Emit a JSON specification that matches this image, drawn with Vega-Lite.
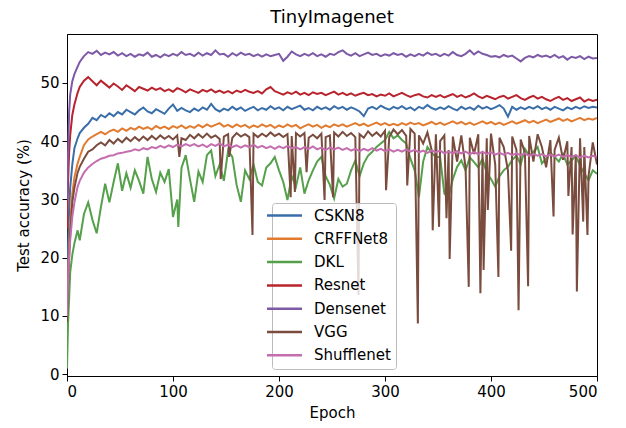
{
  "$schema": "https://vega.github.io/schema/vega-lite/v6.json",
  "width": 530,
  "height": 342,
  "autosize": {"type": "none"},
  "padding": {"left": 67, "top": 34, "right": 29, "bottom": 52},
  "background": "white",
  "title": {"text": "TinyImagenet", "fontSize": 18, "font": "DejaVu Sans", "fontWeight": "normal", "color": "black", "offset": 7},
  "config": {
    "font": "DejaVu Sans",
    "view": {"stroke": "black", "strokeWidth": 1},
    "axis": {
      "grid": false,
      "domainColor": "black",
      "tickColor": "black",
      "tickSize": 5,
      "labelFont": "DejaVu Sans",
      "labelFontSize": 15,
      "labelColor": "black",
      "labelPadding": 3,
      "titleFont": "DejaVu Sans",
      "titleFontSize": 15,
      "titleFontWeight": "normal",
      "titleColor": "black"
    }
  },
  "data": {
    "values": [
      {"e": 0, "CSKN8": 15, "CRFFNet8": 10, "DKL": 1.0, "Resnet": 25, "Densenet": 30, "VGG": 9, "Shufflenet": 10},
      {"e": 1, "CSKN8": 22, "CRFFNet8": 17, "DKL": 8.8, "Resnet": 33, "Densenet": 38, "VGG": 15, "Shufflenet": 16},
      {"e": 2, "CSKN8": 28, "CRFFNet8": 22, "DKL": 13, "Resnet": 38, "Densenet": 45, "VGG": 20, "Shufflenet": 20},
      {"e": 3, "CSKN8": 32, "CRFFNet8": 26, "DKL": 17.5, "Resnet": 41, "Densenet": 48, "VGG": 24, "Shufflenet": 23},
      {"e": 5, "CSKN8": 36, "CRFFNet8": 31, "DKL": 20.5, "Resnet": 44.5, "Densenet": 50.3, "VGG": 29.5, "Shufflenet": 27},
      {"e": 7, "CSKN8": 38.8, "CRFFNet8": 33.8, "DKL": 22.5, "Resnet": 46.3, "Densenet": 51.5, "VGG": 32, "Shufflenet": 29.5},
      {"e": 10, "CSKN8": 40.5, "CRFFNet8": 36.2, "DKL": 24.7, "Resnet": 48.3, "Densenet": 52.8, "VGG": 34.6, "Shufflenet": 32.2},
      {"e": 12, "CSKN8": 41.4, "CRFFNet8": 37.3, "DKL": 23.0, "Resnet": 49.3, "Densenet": 53.6, "VGG": 35.6, "Shufflenet": 33.2},
      {"e": 16, "CSKN8": 42.3, "CRFFNet8": 39.3, "DKL": 27.5, "Resnet": 50.4, "Densenet": 54.6, "VGG": 37.0, "Shufflenet": 34.6},
      {"e": 20, "CSKN8": 43.0, "CRFFNet8": 40.3, "DKL": 29.5, "Resnet": 51.0, "Densenet": 55.3, "VGG": 38.2, "Shufflenet": 35.5},
      {"e": 24, "CSKN8": 44.0, "CRFFNet8": 40.8, "DKL": 26.5, "Resnet": 50.3, "Densenet": 55.0, "VGG": 38.6, "Shufflenet": 36.1},
      {"e": 28, "CSKN8": 43.6, "CRFFNet8": 41.2, "DKL": 24.2, "Resnet": 49.6, "Densenet": 55.5, "VGG": 39.3, "Shufflenet": 36.6},
      {"e": 32, "CSKN8": 44.5, "CRFFNet8": 41.6, "DKL": 28.7, "Resnet": 50.4, "Densenet": 54.8, "VGG": 39.8, "Shufflenet": 37.0},
      {"e": 36, "CSKN8": 44.1, "CRFFNet8": 41.2, "DKL": 32.7, "Resnet": 49.8, "Densenet": 55.2, "VGG": 39.3, "Shufflenet": 37.2},
      {"e": 40, "CSKN8": 44.8, "CRFFNet8": 41.7, "DKL": 29.5, "Resnet": 49.2, "Densenet": 54.9, "VGG": 40.2, "Shufflenet": 37.5},
      {"e": 44, "CSKN8": 44.3, "CRFFNet8": 42.0, "DKL": 33.0, "Resnet": 49.9, "Densenet": 55.3, "VGG": 39.6, "Shufflenet": 37.6},
      {"e": 48, "CSKN8": 45.0, "CRFFNet8": 41.6, "DKL": 36.2, "Resnet": 49.4, "Densenet": 54.7, "VGG": 40.4, "Shufflenet": 37.9},
      {"e": 52, "CSKN8": 44.6, "CRFFNet8": 42.2, "DKL": 31.5, "Resnet": 48.8, "Densenet": 55.1, "VGG": 39.8, "Shufflenet": 38.0},
      {"e": 56, "CSKN8": 45.4, "CRFFNet8": 41.8, "DKL": 34.5, "Resnet": 49.6, "Densenet": 54.6, "VGG": 40.6, "Shufflenet": 38.2},
      {"e": 60, "CSKN8": 45.0, "CRFFNet8": 42.3, "DKL": 32.0, "Resnet": 49.1, "Densenet": 55.0, "VGG": 40.0, "Shufflenet": 38.3},
      {"e": 64, "CSKN8": 44.6, "CRFFNet8": 42.0, "DKL": 35.0, "Resnet": 48.6, "Densenet": 54.5, "VGG": 40.7, "Shufflenet": 38.6},
      {"e": 68, "CSKN8": 45.3, "CRFFNet8": 42.5, "DKL": 33.2, "Resnet": 49.3, "Densenet": 54.9, "VGG": 40.1, "Shufflenet": 38.4},
      {"e": 72, "CSKN8": 45.8, "CRFFNet8": 42.1, "DKL": 31.0, "Resnet": 49.0, "Densenet": 54.7, "VGG": 40.8, "Shufflenet": 38.8},
      {"e": 76, "CSKN8": 45.1, "CRFFNet8": 42.4, "DKL": 37.3, "Resnet": 48.7, "Densenet": 55.2, "VGG": 40.2, "Shufflenet": 38.6},
      {"e": 80, "CSKN8": 44.8, "CRFFNet8": 42.0, "DKL": 33.5, "Resnet": 49.2, "Densenet": 54.5, "VGG": 40.9, "Shufflenet": 39.0},
      {"e": 84, "CSKN8": 45.5, "CRFFNet8": 42.6, "DKL": 31.3, "Resnet": 48.8, "Densenet": 54.8, "VGG": 40.3, "Shufflenet": 38.8},
      {"e": 88, "CSKN8": 45.1, "CRFFNet8": 42.2, "DKL": 34.6, "Resnet": 49.1, "Densenet": 54.4, "VGG": 41.0, "Shufflenet": 39.2},
      {"e": 92, "CSKN8": 44.7, "CRFFNet8": 42.5, "DKL": 33.0, "Resnet": 48.6, "Densenet": 54.9, "VGG": 40.4, "Shufflenet": 38.9},
      {"e": 96, "CSKN8": 45.6, "CRFFNet8": 42.1, "DKL": 35.2, "Resnet": 48.9, "Densenet": 54.6, "VGG": 40.9, "Shufflenet": 39.3},
      {"e": 100, "CSKN8": 46.3, "CRFFNet8": 42.6, "DKL": 27.0, "Resnet": 48.5, "Densenet": 55.0, "VGG": 40.3, "Shufflenet": 39.0},
      {"e": 104, "CSKN8": 45.2, "CRFFNet8": 42.3, "DKL": 30.0, "Resnet": 49.1, "Densenet": 54.7, "VGG": 41.0, "Shufflenet": 39.4},
      {"e": 105, "DKL": 25.3},
      {"e": 106, "VGG": 37.3},
      {"e": 108, "CSKN8": 45.7, "CRFFNet8": 42.7, "DKL": 35.4, "Resnet": 48.8, "Densenet": 55.3, "VGG": 40.5, "Shufflenet": 39.1},
      {"e": 112, "CSKN8": 45.3, "CRFFNet8": 42.2, "DKL": 37.6, "Resnet": 48.4, "Densenet": 54.8, "VGG": 40.2, "Shufflenet": 39.5},
      {"e": 116, "CSKN8": 45.0, "CRFFNet8": 42.6, "DKL": 33.5, "Resnet": 48.9, "Densenet": 55.0, "VGG": 41.1, "Shufflenet": 39.2},
      {"e": 120, "CSKN8": 45.6, "CRFFNet8": 42.3, "DKL": 29.6, "Resnet": 48.6, "Densenet": 54.6, "VGG": 40.5, "Shufflenet": 39.5},
      {"e": 124, "CSKN8": 45.2, "CRFFNet8": 42.8, "DKL": 34.8, "Resnet": 48.3, "Densenet": 55.2, "VGG": 41.2, "Shufflenet": 39.1},
      {"e": 128, "CSKN8": 45.8, "CRFFNet8": 42.4, "DKL": 33.0, "Resnet": 48.8, "Densenet": 54.7, "VGG": 40.6, "Shufflenet": 39.4},
      {"e": 132, "CSKN8": 45.4, "CRFFNet8": 42.9, "DKL": 37.6, "Resnet": 48.5, "Densenet": 55.1, "VGG": 41.3, "Shufflenet": 39.0},
      {"e": 136, "CSKN8": 46.4, "CRFFNet8": 42.5, "DKL": 38.4, "Resnet": 48.9, "Densenet": 54.8, "VGG": 40.6, "Shufflenet": 39.5},
      {"e": 140, "CSKN8": 45.5, "CRFFNet8": 42.8, "DKL": 34.0, "Resnet": 48.4, "Densenet": 55.6, "VGG": 41.0, "Shufflenet": 39.2},
      {"e": 144, "CSKN8": 45.1, "CRFFNet8": 43.1, "DKL": 36.0, "Resnet": 48.7, "Densenet": 54.9, "VGG": 40.4, "Shufflenet": 39.6},
      {"e": 145, "VGG": 33.5},
      {"e": 148, "CSKN8": 45.6, "CRFFNet8": 42.5, "DKL": 33.2, "Resnet": 48.3, "Densenet": 55.0, "VGG": 40.8, "Shufflenet": 39.1},
      {"e": 152, "CSKN8": 45.3, "CRFFNet8": 42.8, "DKL": 38.4, "Resnet": 48.6, "Densenet": 54.5, "VGG": 41.2, "Shufflenet": 39.4},
      {"e": 153, "VGG": 37.3},
      {"e": 156, "CSKN8": 45.9, "CRFFNet8": 42.4, "DKL": 37.3, "Resnet": 48.2, "Densenet": 55.1, "VGG": 40.6, "Shufflenet": 39.0},
      {"e": 160, "CSKN8": 45.4, "CRFFNet8": 42.9, "DKL": 32.5, "Resnet": 48.7, "Densenet": 54.7, "VGG": 41.4, "Shufflenet": 39.3},
      {"e": 164, "CSKN8": 45.8, "CRFFNet8": 42.5, "DKL": 29.6, "Resnet": 48.4, "Densenet": 55.2, "VGG": 40.8, "Shufflenet": 38.9},
      {"e": 168, "CSKN8": 45.2, "CRFFNet8": 42.8, "DKL": 35.0, "Resnet": 48.8, "Densenet": 54.8, "VGG": 41.2, "Shufflenet": 39.3},
      {"e": 172, "CSKN8": 45.6, "CRFFNet8": 42.3, "DKL": 33.5, "Resnet": 48.5, "Densenet": 55.0, "VGG": 40.7, "Shufflenet": 39.0},
      {"e": 175, "VGG": 23.9},
      {"e": 176, "CSKN8": 45.9, "CRFFNet8": 42.7, "DKL": 36.0, "Resnet": 48.3, "Densenet": 54.6, "VGG": 41.3, "Shufflenet": 39.4},
      {"e": 180, "CSKN8": 45.3, "CRFFNet8": 42.4, "DKL": 33.0, "Resnet": 48.6, "Densenet": 54.9, "VGG": 40.7, "Shufflenet": 38.9},
      {"e": 184, "CSKN8": 45.7, "CRFFNet8": 42.9, "DKL": 32.4, "Resnet": 48.2, "Densenet": 54.5, "VGG": 41.3, "Shufflenet": 39.2},
      {"e": 188, "CSKN8": 45.4, "CRFFNet8": 42.5, "DKL": 35.5, "Resnet": 48.9, "Densenet": 54.9, "VGG": 40.8, "Shufflenet": 38.8},
      {"e": 192, "CSKN8": 46.0, "CRFFNet8": 42.8, "DKL": 36.2, "Resnet": 49.3, "Densenet": 54.6, "VGG": 41.5, "Shufflenet": 39.1},
      {"e": 196, "CSKN8": 45.5, "CRFFNet8": 42.3, "DKL": 37.3, "Resnet": 48.6, "Densenet": 54.8, "VGG": 40.9, "Shufflenet": 38.7},
      {"e": 200, "CSKN8": 45.8, "CRFFNet8": 42.7, "DKL": 35.0, "Resnet": 48.3, "Densenet": 55.0, "VGG": 41.3, "Shufflenet": 39.1},
      {"e": 204, "CSKN8": 45.3, "CRFFNet8": 42.4, "DKL": 33.0, "Resnet": 48.0, "Densenet": 53.8, "VGG": 40.7, "Shufflenet": 38.8},
      {"e": 208, "CSKN8": 45.9, "CRFFNet8": 42.9, "DKL": 29.9, "Resnet": 48.4, "Densenet": 54.5, "VGG": 41.2, "Shufflenet": 39.2},
      {"e": 211, "VGG": 30.4},
      {"e": 212, "CSKN8": 45.5, "CRFFNet8": 42.5, "DKL": 34.0, "Resnet": 48.1, "Densenet": 55.4, "VGG": 40.9, "Shufflenet": 38.8},
      {"e": 215, "VGG": 31.3},
      {"e": 216, "CSKN8": 45.8, "CRFFNet8": 42.8, "DKL": 32.2, "Resnet": 48.5, "Densenet": 54.9, "VGG": 41.4, "Shufflenet": 39.0},
      {"e": 220, "CSKN8": 46.1, "CRFFNet8": 42.2, "DKL": 35.5, "Resnet": 48.0, "Densenet": 54.6, "VGG": 40.8, "Shufflenet": 38.6},
      {"e": 224, "CSKN8": 45.4, "CRFFNet8": 42.6, "DKL": 31.0, "Resnet": 48.3, "Densenet": 55.0, "VGG": 41.4, "Shufflenet": 39.0},
      {"e": 226, "VGG": 34.7},
      {"e": 228, "CSKN8": 45.7, "CRFFNet8": 42.9, "DKL": 33.3, "Resnet": 47.9, "Densenet": 54.7, "VGG": 40.6, "Shufflenet": 38.7},
      {"e": 232, "CSKN8": 45.3, "CRFFNet8": 42.5, "DKL": 35.0, "Resnet": 48.4, "Densenet": 55.1, "VGG": 41.1, "Shufflenet": 39.1},
      {"e": 236, "CSKN8": 45.9, "CRFFNet8": 42.8, "DKL": 36.5, "Resnet": 48.1, "Densenet": 54.6, "VGG": 40.5, "Shufflenet": 38.6},
      {"e": 240, "CSKN8": 45.5, "CRFFNet8": 42.3, "DKL": 37.3, "Resnet": 48.3, "Densenet": 54.9, "VGG": 41.3, "Shufflenet": 38.9},
      {"e": 243, "VGG": 29.9},
      {"e": 244, "CSKN8": 45.8, "CRFFNet8": 42.7, "DKL": 34.0, "Resnet": 47.9, "Densenet": 54.5, "VGG": 40.7, "Shufflenet": 38.5},
      {"e": 248, "CSKN8": 45.4, "CRFFNet8": 42.4, "DKL": 32.5, "Resnet": 48.2, "Densenet": 55.0, "VGG": 41.0, "Shufflenet": 38.9},
      {"e": 251, "VGG": 30.4},
      {"e": 252, "CSKN8": 46.0, "CRFFNet8": 42.9, "DKL": 30.2, "Resnet": 48.5, "Densenet": 54.8, "VGG": 41.5, "Shufflenet": 38.6},
      {"e": 256, "CSKN8": 45.6, "CRFFNet8": 42.6, "DKL": 33.5, "Resnet": 48.0, "Densenet": 55.3, "VGG": 40.8, "Shufflenet": 38.9},
      {"e": 260, "CSKN8": 45.9, "CRFFNet8": 42.9, "DKL": 32.2, "Resnet": 48.3, "Densenet": 55.6, "VGG": 41.6, "Shufflenet": 38.5},
      {"e": 264, "CSKN8": 45.4, "CRFFNet8": 42.5, "DKL": 32.7, "Resnet": 47.9, "Densenet": 55.0, "VGG": 40.9, "Shufflenet": 38.8},
      {"e": 268, "CSKN8": 45.8, "CRFFNet8": 42.8, "DKL": 35.0, "Resnet": 48.2, "Densenet": 54.7, "VGG": 41.4, "Shufflenet": 38.4},
      {"e": 272, "CSKN8": 45.5, "CRFFNet8": 43.1, "DKL": 36.7, "Resnet": 47.8, "Densenet": 55.1, "VGG": 40.7, "Shufflenet": 38.7},
      {"e": 275, "VGG": 13.6},
      {"e": 276, "CSKN8": 45.1, "CRFFNet8": 42.7, "DKL": 34.0, "Resnet": 48.1, "Densenet": 54.6, "VGG": 41.2, "Shufflenet": 38.3},
      {"e": 280, "CSKN8": 44.3, "CRFFNet8": 43.0, "DKL": 36.2, "Resnet": 48.3, "Densenet": 54.9, "VGG": 40.6, "Shufflenet": 38.7},
      {"e": 284, "CSKN8": 45.6, "CRFFNet8": 42.6, "DKL": 37.5, "Resnet": 47.9, "Densenet": 55.2, "VGG": 41.7, "Shufflenet": 38.4},
      {"e": 288, "CSKN8": 45.9, "CRFFNet8": 42.9, "DKL": 38.2, "Resnet": 48.1, "Densenet": 54.8, "VGG": 40.9, "Shufflenet": 38.8},
      {"e": 292, "CSKN8": 45.5, "CRFFNet8": 43.2, "DKL": 39.0, "Resnet": 47.7, "Densenet": 55.0, "VGG": 41.5, "Shufflenet": 38.4},
      {"e": 296, "CSKN8": 46.1, "CRFFNet8": 42.8, "DKL": 39.6, "Resnet": 48.0, "Densenet": 54.6, "VGG": 40.8, "Shufflenet": 38.7},
      {"e": 300, "CSKN8": 45.7, "CRFFNet8": 43.1, "DKL": 40.2, "Resnet": 47.8, "Densenet": 54.9, "VGG": 41.8, "Shufflenet": 38.3},
      {"e": 301, "VGG": 31.6},
      {"e": 304, "CSKN8": 45.4, "CRFFNet8": 42.7, "DKL": 41.6, "Resnet": 48.2, "Densenet": 54.7, "VGG": 40.7, "Shufflenet": 38.6},
      {"e": 308, "CSKN8": 45.9, "CRFFNet8": 43.0, "DKL": 40.5, "Resnet": 47.7, "Densenet": 55.1, "VGG": 42.0, "Shufflenet": 38.2},
      {"e": 312, "CSKN8": 45.6, "CRFFNet8": 42.7, "DKL": 41.0, "Resnet": 48.0, "Densenet": 54.8, "VGG": 41.2, "Shufflenet": 38.5},
      {"e": 316, "CSKN8": 46.0, "CRFFNet8": 43.1, "DKL": 40.2, "Resnet": 48.3, "Densenet": 55.0, "VGG": 41.9, "Shufflenet": 38.2},
      {"e": 320, "CSKN8": 45.5, "CRFFNet8": 42.8, "DKL": 39.6, "Resnet": 47.9, "Densenet": 54.5, "VGG": 40.9, "Shufflenet": 38.6},
      {"e": 321, "VGG": 32.4},
      {"e": 324, "CSKN8": 45.8, "CRFFNet8": 43.2, "DKL": 37.0, "Resnet": 47.6, "Densenet": 54.9, "VGG": 42.1, "Shufflenet": 38.2},
      {"e": 328, "CSKN8": 45.3, "CRFFNet8": 42.9, "DKL": 35.0, "Resnet": 47.9, "Densenet": 54.6, "VGG": 41.3, "Shufflenet": 38.5},
      {"e": 331, "VGG": 8.7},
      {"e": 332, "CSKN8": 45.9, "CRFFNet8": 43.1, "DKL": 30.4, "Resnet": 48.1, "Densenet": 55.0, "VGG": 41.0, "Shufflenet": 38.1},
      {"e": 336, "CSKN8": 45.6, "CRFFNet8": 42.7, "DKL": 36.5, "Resnet": 47.7, "Densenet": 54.7, "VGG": 39.6, "Shufflenet": 38.4},
      {"e": 340, "CSKN8": 46.2, "CRFFNet8": 43.0, "DKL": 39.0, "Resnet": 47.5, "Densenet": 55.2, "VGG": 41.5, "Shufflenet": 38.0},
      {"e": 344, "CSKN8": 45.7, "CRFFNet8": 43.3, "DKL": 38.0, "Resnet": 47.9, "Densenet": 54.8, "VGG": 38.5, "Shufflenet": 38.4},
      {"e": 345, "VGG": 24.7},
      {"e": 348, "CSKN8": 45.4, "CRFFNet8": 42.9, "DKL": 37.3, "Resnet": 47.6, "Densenet": 55.0, "VGG": 41.2, "Shufflenet": 38.1},
      {"e": 351, "VGG": 25.3},
      {"e": 352, "CSKN8": 45.8, "CRFFNet8": 43.2, "DKL": 37.3, "Resnet": 47.9, "Densenet": 54.6, "VGG": 40.0, "Shufflenet": 38.4},
      {"e": 356, "CSKN8": 45.5, "CRFFNet8": 42.8, "DKL": 31.0, "Resnet": 47.5, "Densenet": 55.0, "VGG": 41.0, "Shufflenet": 37.9},
      {"e": 358, "VGG": 26.8},
      {"e": 360, "CSKN8": 46.0, "CRFFNet8": 43.1, "DKL": 30.4, "Resnet": 47.8, "Densenet": 54.7, "VGG": 38.5, "Shufflenet": 38.2},
      {"e": 361, "VGG": 19.8},
      {"e": 364, "CSKN8": 45.6, "CRFFNet8": 43.4, "DKL": 33.5, "Resnet": 48.1, "Densenet": 55.3, "VGG": 40.8, "Shufflenet": 37.9},
      {"e": 368, "CSKN8": 45.3, "CRFFNet8": 43.0, "DKL": 35.6, "Resnet": 47.6, "Densenet": 54.8, "VGG": 36.5, "Shufflenet": 38.3},
      {"e": 372, "CSKN8": 45.9, "CRFFNet8": 43.3, "DKL": 36.7, "Resnet": 47.9, "Densenet": 54.6, "VGG": 41.0, "Shufflenet": 37.9},
      {"e": 376, "CSKN8": 45.5, "CRFFNet8": 42.9, "DKL": 35.0, "Resnet": 47.5, "Densenet": 55.0, "VGG": 35.5, "Shufflenet": 38.2},
      {"e": 379, "VGG": 15.0},
      {"e": 380, "CSKN8": 45.8, "CRFFNet8": 43.2, "DKL": 37.2, "Resnet": 47.8, "Densenet": 55.6, "VGG": 40.6, "Shufflenet": 37.8},
      {"e": 384, "CSKN8": 45.4, "CRFFNet8": 42.8, "DKL": 36.4, "Resnet": 48.2, "Densenet": 54.9, "VGG": 37.8, "Shufflenet": 38.1},
      {"e": 388, "CSKN8": 46.1, "CRFFNet8": 43.1, "DKL": 35.5, "Resnet": 47.7, "Densenet": 55.4, "VGG": 41.2, "Shufflenet": 37.8},
      {"e": 390, "VGG": 13.9},
      {"e": 392, "CSKN8": 45.6, "CRFFNet8": 43.4, "DKL": 37.0, "Resnet": 47.4, "Densenet": 55.0, "VGG": 38.0, "Shufflenet": 38.2},
      {"e": 393, "VGG": 17.9},
      {"e": 396, "CSKN8": 45.9, "CRFFNet8": 43.0, "DKL": 34.5, "Resnet": 47.8, "Densenet": 54.8, "VGG": 40.5, "Shufflenet": 37.8},
      {"e": 397, "VGG": 28.2},
      {"e": 400, "CSKN8": 45.5, "CRFFNet8": 43.3, "DKL": 33.5, "Resnet": 47.5, "Densenet": 54.5, "VGG": 41.3, "Shufflenet": 38.1},
      {"e": 404, "CSKN8": 45.8, "CRFFNet8": 42.9, "DKL": 32.2, "Resnet": 47.2, "Densenet": 54.6, "VGG": 36.0, "Shufflenet": 37.7},
      {"e": 407, "VGG": 16.7},
      {"e": 408, "CSKN8": 46.2, "CRFFNet8": 43.2, "DKL": 34.0, "Resnet": 47.6, "Densenet": 54.4, "VGG": 40.6, "Shufflenet": 38.0},
      {"e": 412, "CSKN8": 45.6, "CRFFNet8": 42.8, "DKL": 35.0, "Resnet": 47.8, "Densenet": 54.8, "VGG": 39.0, "Shufflenet": 37.7},
      {"e": 416, "CSKN8": 44.2, "CRFFNet8": 43.1, "DKL": 35.6, "Resnet": 47.3, "Densenet": 54.5, "VGG": 35.0, "Shufflenet": 38.0},
      {"e": 419, "VGG": 21.2},
      {"e": 420, "CSKN8": 45.9, "CRFFNet8": 43.4, "DKL": 36.8, "Resnet": 47.6, "Densenet": 54.7, "VGG": 40.8, "Shufflenet": 37.6},
      {"e": 424, "CSKN8": 45.4, "CRFFNet8": 43.0, "DKL": 37.5, "Resnet": 47.9, "Densenet": 54.2, "VGG": 38.5, "Shufflenet": 37.9},
      {"e": 426, "VGG": 11.0},
      {"e": 428, "CSKN8": 45.8, "CRFFNet8": 43.3, "DKL": 36.0, "Resnet": 47.4, "Densenet": 53.7, "VGG": 40.3, "Shufflenet": 37.6},
      {"e": 432, "CSKN8": 45.5, "CRFFNet8": 43.6, "DKL": 38.7, "Resnet": 47.1, "Densenet": 54.3, "VGG": 38.0, "Shufflenet": 37.9},
      {"e": 435, "VGG": 15.1},
      {"e": 436, "CSKN8": 45.9, "CRFFNet8": 43.2, "DKL": 37.5, "Resnet": 47.5, "Densenet": 54.6, "VGG": 40.9, "Shufflenet": 37.5},
      {"e": 440, "CSKN8": 45.6, "CRFFNet8": 43.5, "DKL": 38.2, "Resnet": 47.8, "Densenet": 54.4, "VGG": 36.5, "Shufflenet": 37.8},
      {"e": 444, "CSKN8": 46.0, "CRFFNet8": 43.1, "DKL": 39.0, "Resnet": 47.3, "Densenet": 54.8, "VGG": 41.2, "Shufflenet": 37.5},
      {"e": 448, "CSKN8": 45.5, "CRFFNet8": 43.4, "DKL": 36.2, "Resnet": 47.6, "Densenet": 54.5, "VGG": 39.0, "Shufflenet": 37.8},
      {"e": 452, "CSKN8": 45.8, "CRFFNet8": 43.7, "DKL": 37.0, "Resnet": 47.2, "Densenet": 54.7, "VGG": 35.5, "Shufflenet": 37.4},
      {"e": 456, "CSKN8": 45.4, "CRFFNet8": 43.3, "DKL": 38.0, "Resnet": 46.9, "Densenet": 54.4, "VGG": 40.2, "Shufflenet": 37.7},
      {"e": 459, "VGG": 27.1},
      {"e": 460, "CSKN8": 45.9, "CRFFNet8": 43.6, "DKL": 37.3, "Resnet": 47.3, "Densenet": 54.8, "VGG": 38.5, "Shufflenet": 37.4},
      {"e": 464, "CSKN8": 45.6, "CRFFNet8": 43.9, "DKL": 36.5, "Resnet": 47.6, "Densenet": 54.3, "VGG": 40.6, "Shufflenet": 37.7},
      {"e": 468, "CSKN8": 45.3, "CRFFNet8": 43.5, "DKL": 37.8, "Resnet": 47.1, "Densenet": 54.6, "VGG": 36.8, "Shufflenet": 37.3},
      {"e": 472, "CSKN8": 45.8, "CRFFNet8": 43.8, "DKL": 36.0, "Resnet": 47.4, "Densenet": 54.0, "VGG": 40.0, "Shufflenet": 37.6},
      {"e": 473, "VGG": 30.6},
      {"e": 476, "CSKN8": 45.5, "CRFFNet8": 43.4, "DKL": 36.7, "Resnet": 46.9, "Densenet": 54.5, "VGG": 39.0, "Shufflenet": 37.3},
      {"e": 477, "VGG": 24.0},
      {"e": 480, "CSKN8": 45.9, "CRFFNet8": 43.7, "DKL": 37.5, "Resnet": 47.2, "Densenet": 54.3, "VGG": 37.5, "Shufflenet": 37.6},
      {"e": 481, "VGG": 14.2},
      {"e": 484, "CSKN8": 45.6, "CRFFNet8": 44.0, "DKL": 35.8, "Resnet": 47.5, "Densenet": 54.6, "VGG": 40.5, "Shufflenet": 37.2},
      {"e": 487, "VGG": 26.2},
      {"e": 488, "CSKN8": 46.0, "CRFFNet8": 43.6, "DKL": 34.5, "Resnet": 46.8, "Densenet": 54.1, "VGG": 39.0, "Shufflenet": 37.5},
      {"e": 491, "VGG": 23.9},
      {"e": 492, "CSKN8": 45.7, "CRFFNet8": 43.9, "DKL": 33.3, "Resnet": 47.2, "Densenet": 54.5, "VGG": 34.0, "Shufflenet": 37.2},
      {"e": 496, "CSKN8": 45.9, "CRFFNet8": 43.7, "DKL": 35.0, "Resnet": 46.9, "Densenet": 54.2, "VGG": 39.8, "Shufflenet": 37.5},
      {"e": 500, "CSKN8": 45.8, "CRFFNet8": 44.0, "DKL": 34.4, "Resnet": 47.1, "Densenet": 54.3, "VGG": 36.0, "Shufflenet": 37.3}
    ]
  },
  "transform": [
    {"fold": ["CSKN8", "CRFFNet8", "DKL", "Resnet", "Densenet", "VGG", "Shufflenet"], "as": ["model", "accuracy"]},
    {"filter": "isValid(datum.accuracy)"}
  ],
  "mark": {"type": "line", "strokeWidth": 2, "clip": true},
  "encoding": {
    "x": {
      "field": "e",
      "type": "quantitative",
      "scale": {"domain": [0, 500], "nice": false},
      "axis": {"title": "Epoch", "values": [0, 100, 200, 300, 400, 500], "titlePadding": 6}
    },
    "y": {
      "field": "accuracy",
      "type": "quantitative",
      "scale": {"domain": [-0.3, 58.4], "nice": false, "zero": false},
      "axis": {"title": "Test accuracy (%)", "values": [0, 10, 20, 30, 40, 50], "titlePadding": 8}
    },
    "color": {
      "field": "model",
      "type": "nominal",
      "scale": {
        "domain": ["CSKN8", "CRFFNet8", "DKL", "Resnet", "Densenet", "VGG", "Shufflenet"],
        "range": ["#3a6ea8", "#e07b30", "#55a04a", "#b8242d", "#7e5aa6", "#7a4c3e", "#c46daf"]
      },
      "legend": {
        "orient": "none",
        "legendX": 205,
        "legendY": 169,
        "title": null,
        "symbolType": "M-3,0H3",
        "symbolStrokeWidth": 2.5,
        "symbolSize": 136,
        "labelFont": "DejaVu Sans",
        "labelFontSize": 15,
        "labelColor": "black",
        "labelOffset": 22,
        "rowPadding": 7.3,
        "padding": 5,
        "fillColor": "rgba(255,255,255,0.8)",
        "strokeColor": "#bbbbbb",
        "cornerRadius": 3
      }
    }
  }
}
